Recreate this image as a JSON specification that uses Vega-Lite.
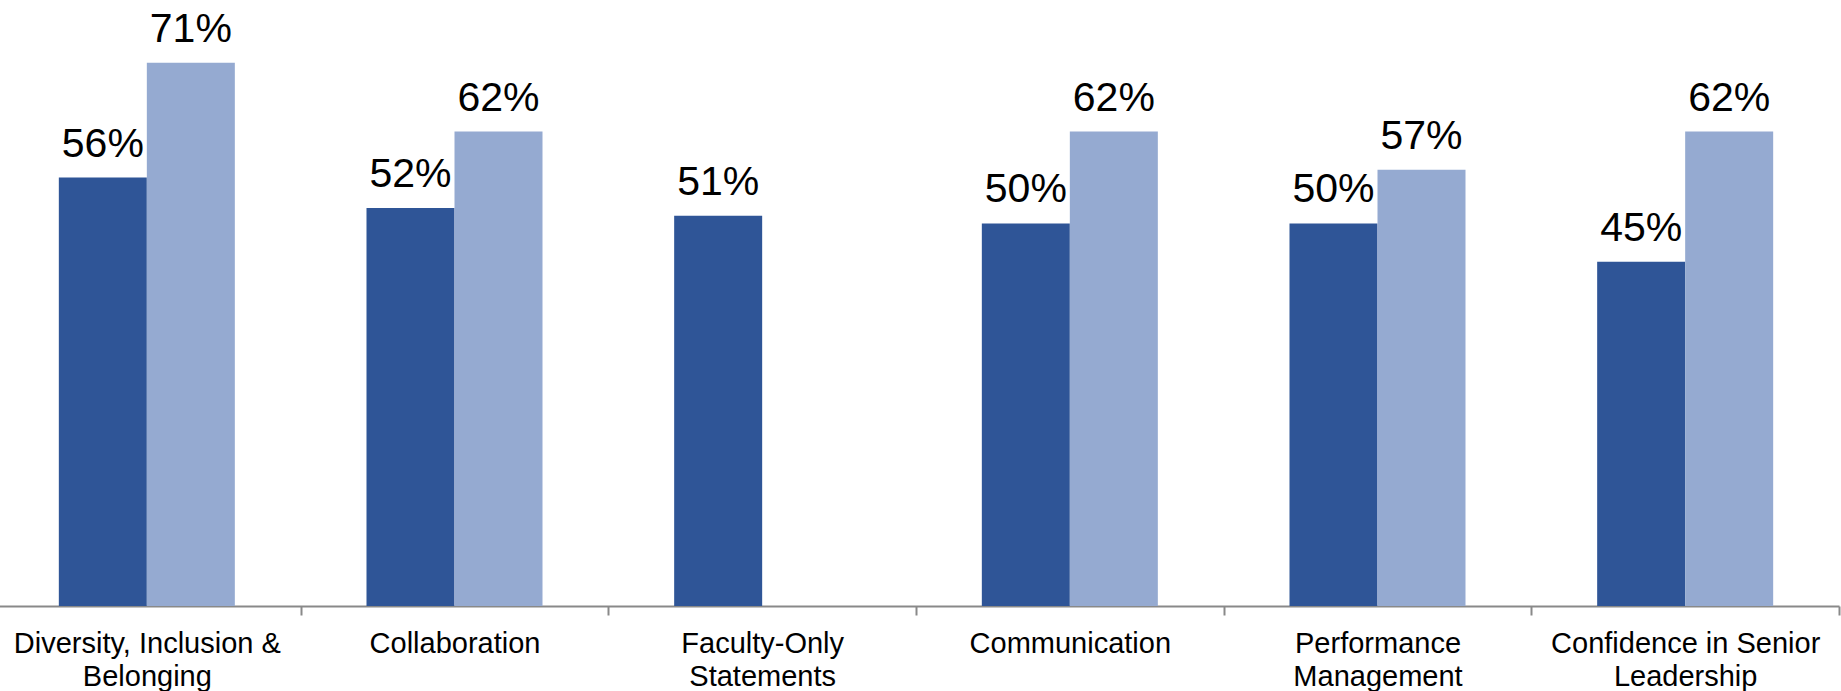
{
  "$schema": "https://vega.github.io/schema/vega-lite/v6.json",
  "autosize": "none",
  "padding": {"left": -7, "top": 0, "right": 2, "bottom": 85},
  "width": 1846,
  "height": 606,
  "background": "white",
  "config": {"view": {"stroke": null}, "font": "Liberation Sans"},
  "data": {"values": [
    {"category": "Diversity, Inclusion & Belonging", "series": "A", "value": 0.56},
    {"category": "Diversity, Inclusion & Belonging", "series": "B", "value": 0.71},
    {"category": "Collaboration", "series": "A", "value": 0.52},
    {"category": "Collaboration", "series": "B", "value": 0.62},
    {"category": "Faculty-Only Statements", "series": "A", "value": 0.51},
    {"category": "Communication", "series": "A", "value": 0.50},
    {"category": "Communication", "series": "B", "value": 0.62},
    {"category": "Performance Management", "series": "A", "value": 0.50},
    {"category": "Performance Management", "series": "B", "value": 0.57},
    {"category": "Confidence in Senior Leadership", "series": "A", "value": 0.45},
    {"category": "Confidence in Senior Leadership", "series": "B", "value": 0.62}
  ]},
  "encoding": {
    "x": {
      "field": "category", "type": "nominal",
      "sort": ["Diversity, Inclusion & Belonging", "Collaboration", "Faculty-Only Statements", "Communication", "Performance Management", "Confidence in Senior Leadership"],
      "scale": {"paddingInner": 0, "paddingOuter": 0},
      "axis": {
        "title": null, "labelAngle": 0, "tickBand": "extent",
        "domainColor": "#898989", "domainWidth": 2,
        "tickColor": "#898989", "tickWidth": 2, "tickSize": 9,
        "labelFontSize": 29, "labelColor": "#000000", "labelPadding": 14,
        "labelLineHeight": 33, "labelBaseline": "top",
        "labelLimit": 600, "labelOverlap": false, "labelBound": false,
        "labelExpr": "datum.value == 'Diversity, Inclusion & Belonging' ? ['Diversity, Inclusion &', 'Belonging'] : datum.value == 'Faculty-Only Statements' ? ['Faculty-Only', 'Statements'] : datum.value == 'Performance Management' ? ['Performance', 'Management'] : datum.value == 'Confidence in Senior Leadership' ? ['Confidence in Senior', 'Leadership'] : datum.value"
      }
    },
    "xOffset": {"field": "series", "type": "nominal", "scale": {"domain": ["A", "B"], "paddingInner": 0, "paddingOuter": 0.748}},
    "y": {"field": "value", "type": "quantitative", "scale": {"domain": [0, 0.792], "nice": false, "zero": true}, "axis": null}
  },
  "layer": [
    {
      "mark": {"type": "bar"},
      "encoding": {
        "color": {"field": "series", "type": "nominal", "scale": {"domain": ["A", "B"], "range": ["#2F5597", "#95AAD1"]}, "legend": null}
      }
    },
    {
      "mark": {"type": "text", "fontSize": 41, "baseline": "alphabetic", "dy": -21, "color": "#000000"},
      "encoding": {"text": {"field": "value", "type": "quantitative", "format": ".0%"}}
    }
  ]
}
